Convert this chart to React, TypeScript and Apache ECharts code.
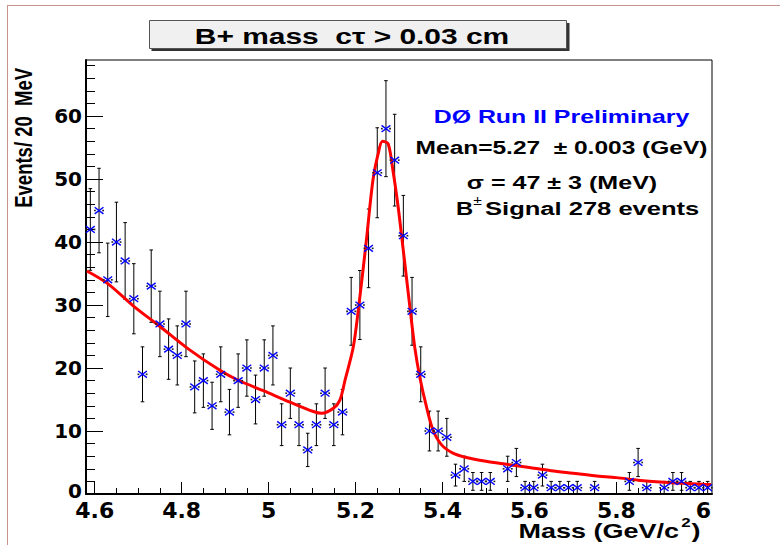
import React, { useEffect, useRef } from 'react';
import * as echarts from 'echarts';

// Histogram binning (20 MeV bins from 4.58 to 6.02 GeV)
const BIN_LOW = 4.58;
const BIN_WIDTH = 0.02;
const X_MIN = 4.58;
const X_MAX = 6.02;
const Y_MIN = 0;
const Y_MAX = 68.9;

// Events per bin
const counts = [
  42, 45, 34, 40, 37, 31, 19, 33, 27, 23,
  22, 27, 17, 18, 14, 19, 13, 18, 20, 15,
  20, 22, 11, 16, 11, 7, 11, 16, 11, 13,
  29, 30, 39, 51, 58, 53, 41, 29, 19, 10,
  10, 9, 3, 4, 2, 2, 2, 0, 4, 5,
  1, 1, 3, 1, 1, 1, 1, 0, 1, 0,
  0, 0, 2, 5, 1, 0, 1, 2, 2, 1,
  1, 1,
];

// Fit curve
const fitMass = [
  4.582, 4.63, 4.69, 4.75, 4.816, 4.889, 4.929, 4.988, 5.049, 5.103,
  5.122, 5.149, 5.164, 5.176, 5.195, 5.21, 5.225, 5.24, 5.252, 5.262,
  5.275, 5.286, 5.298, 5.309, 5.325, 5.336, 5.348, 5.363, 5.378, 5.398,
  5.424, 5.455, 5.5, 5.55, 5.6, 5.65, 5.7, 5.75, 5.8, 5.85,
  5.9, 5.95, 6.0, 6.018,
];
const fitValue = [
  35.4, 33.4, 29.8, 26.6, 23.0, 19.6, 18.1, 16.4, 14.6, 13.1,
  12.8, 13.6, 14.9, 18.1, 23.4, 31.3, 40.3, 49.8, 54.0, 56.0,
  55.6, 51.4, 45.6, 39.2, 29.7, 23.4, 18.5, 13.9, 10.2, 7.8,
  6.5, 5.8, 5.2, 4.7, 4.2, 3.7, 3.3, 2.9, 2.6, 2.2,
  1.9, 1.7, 1.55, 1.5,
];

// Tick labels and tick positions
const xMajorTicks = [4.6, 4.8, 5.0, 5.2, 5.4, 5.6, 5.8, 6.0];
const xMinorTicks = [
  4.6, 4.65, 4.7, 4.75, 4.8, 4.85, 4.9, 4.95, 5.0, 5.05, 5.1, 5.15, 5.2, 5.25, 5.3,
  5.35, 5.4, 5.45, 5.5, 5.55, 5.6, 5.65, 5.7, 5.75, 5.8, 5.85, 5.9, 5.95, 6.0,
];
const yMajorTicks = [0, 10, 20, 30, 40, 50, 60];
const yMinorTicks = [
  0, 2, 4, 6, 8, 10, 12, 14, 16, 18, 20, 22, 24, 26, 28, 30, 32, 34,
  36, 38, 40, 42, 44, 46, 48, 50, 52, 54, 56, 58, 60, 62, 64, 66, 68,
];

const TEXT_FONT = '"Liberation Sans", Arial, Helvetica, sans-serif';
const LABEL_FONT = '"DejaVu Sans", "Liberation Sans", sans-serif';

function txt(opts: any) {
  const { x, y, text, size, weight, fill, align, valign, scaleX, scaleY, rotation, z } = opts;
  return {
    type: 'text',
    x,
    y,
    scaleX: scaleX ?? 1,
    scaleY: scaleY ?? 1,
    rotation: rotation ?? 0,
    z: z ?? 10,
    style: {
      text,
      fill: fill ?? '#000',
      font: `${weight ?? 'bold'} ${size}px ${TEXT_FONT}`,
      align: align ?? 'center',
      textAlign: align ?? 'center',
      verticalAlign: valign ?? 'middle',
      textVerticalAlign: valign ?? 'middle',
    },
  };
}

export default function App() {
  const ref = useRef<HTMLDivElement>(null);

  useEffect(() => {
    document.body.style.margin = '0';
    if (!ref.current) return;
    const chart = echarts.init(ref.current, undefined, { renderer: 'svg' });

    const points = counts
      .map((c, i) => [BIN_LOW + BIN_WIDTH * (i + 0.5), c, Math.sqrt(c)])
      .filter((p) => p[1] > 0);

    const fitData = fitMass.map((m, i) => [m, fitValue[i]]);

    const errorRender = (params: any, api: any) => {
      const x = api.value(0);
      const y = api.value(1);
      const e = api.value(2);
      const p = api.coord([x, y]);
      const top = api.coord([x, y + e]);
      const bot = api.coord([x, Math.max(y - e, 0)]);
      const black = { stroke: '#000', lineWidth: 1 };
      return {
        type: 'group',
        children: [
          { type: 'line', shape: { x1: p[0], y1: top[1], x2: p[0], y2: bot[1] }, style: black },
          { type: 'line', shape: { x1: p[0] - 1.8, y1: top[1], x2: p[0] + 1.8, y2: top[1] }, style: black },
          { type: 'line', shape: { x1: p[0] - 1.8, y1: bot[1], x2: p[0] + 1.8, y2: bot[1] }, style: black },
        ],
      };
    };

    const markerRender = (params: any, api: any) => {
      const x = api.value(0);
      const y = api.value(1);
      const p = api.coord([x, y]);
      const hw = 4.4;
      const hh = 3.3;
      const blue = { stroke: '#0000ff', lineWidth: 1.4 };
      const dark = { stroke: '#222', lineWidth: 1.6 };
      return {
        type: 'group',
        children: [
          { type: 'line', shape: { x1: p[0] - 5, y1: p[1], x2: p[0] - 3.2, y2: p[1] }, style: dark },
          { type: 'line', shape: { x1: p[0] + 3.2, y1: p[1], x2: p[0] + 5, y2: p[1] }, style: dark },
          { type: 'line', shape: { x1: p[0] - hw, y1: p[1] - hh, x2: p[0] + hw, y2: p[1] + hh }, style: blue },
          { type: 'line', shape: { x1: p[0] - hw, y1: p[1] + hh, x2: p[0] + hw, y2: p[1] - hh }, style: blue },
        ],
      };
    };

    const yLabelText = {
      fontFamily: LABEL_FONT,
      fontWeight: 'bold',
      fontSize: 20,
      color: '#000',
    };

    const option: any = {
      animation: false,
      backgroundColor: '#fff',
      grid: {
        left: 86,
        right: 68,
        top: 60,
        bottom: 51,
        show: true,
        borderColor: '#000',
        borderWidth: 1,
        backgroundColor: 'transparent',
        containLabel: false,
      },
      xAxis: [
        {
          type: 'value',
          min: X_MIN,
          max: X_MAX,
          position: 'bottom',
          axisLine: { show: true, onZero: false, lineStyle: { color: '#000', width: 2 } },
          axisTick: { show: true, inside: true, length: 12, customValues: xMajorTicks, lineStyle: { color: '#000', width: 1 } },
          axisLabel: {
            show: true,
            customValues: xMajorTicks,
            margin: 8,
            lineHeight: 17,
            formatter: (v: number) => String(Number(v.toFixed(1))),
            fontFamily: LABEL_FONT,
            fontWeight: 'bold',
            fontSize: 22,
            color: '#000',
          },
          splitLine: { show: false },
        },
        {
          type: 'value',
          min: X_MIN,
          max: X_MAX,
          position: 'bottom',
          axisLine: { show: false, onZero: false },
          axisTick: { show: true, inside: true, length: 6, customValues: xMinorTicks, lineStyle: { color: '#000', width: 1 } },
          axisLabel: { show: false },
          splitLine: { show: false },
        },
      ],
      yAxis: [
        {
          type: 'value',
          min: Y_MIN,
          max: Y_MAX,
          position: 'left',
          axisLine: { show: true, onZero: false, lineStyle: { color: '#000', width: 2 } },
          axisTick: { show: true, inside: true, length: 17, customValues: yMajorTicks, lineStyle: { color: '#000', width: 1 } },
          axisLabel: {
            show: true,
            customValues: yMajorTicks,
            margin: 4,
            lineHeight: 12,
            formatter: (v: number) => (v === 0 ? '{z|0}' : String(v)),
            rich: {
              z: { ...yLabelText, lineHeight: 12, padding: [0, 0, 7, 0] },
            },
            ...yLabelText,
          },
          splitLine: { show: false },
        },
        {
          type: 'value',
          min: Y_MIN,
          max: Y_MAX,
          position: 'left',
          offset: 0,
          axisLine: { show: false, onZero: false },
          axisTick: { show: true, inside: true, length: 9, customValues: yMinorTicks, lineStyle: { color: '#000', width: 1 } },
          axisLabel: { show: false },
          splitLine: { show: false },
        },
      ],
      series: [
        {
          type: 'custom',
          name: 'errors',
          xAxisIndex: 0,
          yAxisIndex: 0,
          data: points,
          renderItem: errorRender,
          z: 2,
          silent: true,
        },
        {
          type: 'line',
          name: 'fit',
          xAxisIndex: 0,
          yAxisIndex: 0,
          data: fitData,
          showSymbol: false,
          symbol: 'none',
          smooth: 0.3,
          lineStyle: { color: '#ff0000', width: 3 },
          z: 3,
          silent: true,
        },
        {
          type: 'custom',
          name: 'markers',
          xAxisIndex: 0,
          yAxisIndex: 0,
          data: points,
          renderItem: markerRender,
          z: 4,
          silent: true,
        },
      ],
      graphic: [
        { type: 'line', shape: { x1: 7, y1: 5.5, x2: 780, y2: 5.5 }, style: { stroke: '#c4938c', lineWidth: 1 }, z: 1 },
        { type: 'line', shape: { x1: 7.5, y1: 5, x2: 7.5, y2: 545 }, style: { stroke: '#c4938c', lineWidth: 1 }, z: 1 },
        { type: 'rect', shape: { x: 151.5, y: 23, width: 418, height: 28 }, style: { fill: '#333' }, z: 5 },
        { type: 'rect', shape: { x: 149.5, y: 20.5, width: 417, height: 28 }, style: { fill: '#f0f0f0', stroke: '#555', lineWidth: 1 }, z: 6 },
        txt({ x: 352, y: 36, text: 'B+ mass  c\u03c4 > 0.03 cm', size: 22, scaleX: 1.36 }),
        txt({ x: 561.5, y: 117, text: 'D\u00d8 Run II Preliminary', size: 19, scaleX: 1.31, fill: '#0000ff' }),
        txt({ x: 561.5, y: 148, text: 'Mean=5.27  \u00b1 0.003 (GeV)', size: 19, scaleX: 1.29 }),
        txt({ x: 562, y: 183, text: '\u03c3 = 47 \u00b1 3 (MeV)', size: 19, scaleX: 1.32 }),
        txt({ x: 456, y: 209, text: 'B', size: 19, scaleX: 1.25, align: 'left' }),
        txt({ x: 477.5, y: 201, text: '\u00b1', size: 12, weight: 'normal', scaleX: 1.3 }),
        txt({ x: 485, y: 209, text: 'Signal 278 events', size: 19, scaleX: 1.345, align: 'left' }),
        txt({ x: 24, y: 68, text: 'Events/ 20  MeV', size: 18.5, weight: 'bold', align: 'right', rotation: Math.PI / 2, scaleY: 1.3 }),
        txt({ x: 679, y: 531, text: 'Mass (GeV/c', size: 20, scaleX: 1.35, align: 'right' }),
        txt({ x: 686, y: 522, text: '2', size: 13, scaleX: 1.3 }),
        txt({ x: 691.5, y: 531, text: ')', size: 20, scaleX: 1.35, align: 'left' }),
      ],
    };

    chart.setOption(option);
    return () => {
      chart.dispose();
    };
  }, []);

  return <div ref={ref} style={{ width: 780, height: 545 }} />;
}
